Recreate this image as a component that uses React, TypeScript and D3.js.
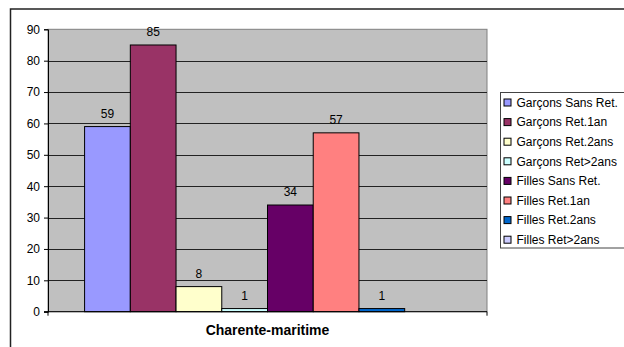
import React, { useRef, useEffect } from 'react';
import * as d3 from 'd3';

const categories = ['Charente-maritime'];
const series = [
    'Garçons Sans Ret.',
    'Garçons Ret.1an',
    'Garçons Ret.2ans',
    'Garçons Ret>2ans',
    'Filles Sans Ret.',
    'Filles Ret.1an',
    'Filles Ret.2ans',
    'Filles Ret>2ans',
];
const values: (number | null)[] = [59, 85, 8, 1, 34, 57, 1, null];
const colors = ['#9999FF', '#993366', '#FFFFCC', '#CCFFFF', '#660066', '#FF8080', '#0066CC', '#CCCCFF'];
const yTicks = [0, 10, 20, 30, 40, 50, 60, 70, 80, 90];

const W = 624;
const H = 347;

const App: React.FC = () => {
    const svgRef = useRef<SVGSVGElement>(null);

    useEffect(() => {
        if (!svgRef.current) return;
        const svg = d3.select(svgRef.current);
        svg.selectAll('*').remove();

        const font = 'Liberation Sans, Arial, sans-serif';
        const plot = { left: 48, right: 487, top: 29.3, bottom: 311.7 };

        // outer chart frame (runs off the picture on the right and bottom)
        svg.append('rect')
            .attr('x', 10.5).attr('y', 9)
            .attr('width', 700).attr('height', 400)
            .attr('fill', 'white')
            .attr('stroke', '#222').attr('stroke-width', 1.5);

        const y = d3.scaleLinear().domain([0, 90]).range([plot.bottom, plot.top]);
        const x0 = d3.scaleBand<string>().domain(categories).range([plot.left, plot.right]);
        const x1 = d3.scaleBand<string>().domain(series)
            .range([0, x0.bandwidth()]).paddingInner(0).paddingOuter(0.8);

        // plot background
        svg.append('rect')
            .attr('x', plot.left).attr('y', plot.top)
            .attr('width', plot.right - plot.left).attr('height', plot.bottom - plot.top)
            .attr('fill', '#C0C0C0')
            .attr('stroke', '#808080').attr('stroke-width', 1);

        // gridlines
        svg.append('g')
            .selectAll('line')
            .data(yTicks.filter(d => d > 0 && d < 90))
            .enter()
            .append('line')
            .attr('x1', plot.left).attr('x2', plot.right)
            .attr('y1', d => Math.round(y(d)) + 0.5).attr('y2', d => Math.round(y(d)) + 0.5)
            .attr('stroke', '#222').attr('stroke-width', 1);

        // bars
        const g = svg.append('g').attr('transform', `translate(${x0(categories[0])},0)`);
        series.forEach((s, i) => {
            const v = values[i];
            if (v == null) return;
            g.append('rect')
                .attr('x', x1(s)!)
                .attr('y', y(v))
                .attr('width', x1.bandwidth())
                .attr('height', y(0) - y(v))
                .attr('fill', colors[i])
                .attr('stroke', '#000').attr('stroke-width', 1);
            g.append('text')
                .attr('x', x1(s)! + x1.bandwidth() / 2)
                .attr('y', y(v) - 9)
                .attr('text-anchor', 'middle')
                .attr('font-family', font).attr('font-size', 12)
                .attr('fill', '#000')
                .text(String(v));
        });

        // y axis
        const yAxis = d3.axisLeft(y).tickValues(yTicks).tickSize(4).tickPadding(4);
        const ya = svg.append('g')
            .attr('transform', `translate(${plot.left},0)`)
            .call(yAxis);
        ya.select('.domain').attr('stroke', '#000');
        ya.selectAll('line').attr('stroke', '#000');
        ya.selectAll('text')
            .attr('font-family', font).attr('font-size', 12).attr('fill', '#000');

        // x axis baseline
        svg.append('line')
            .attr('x1', plot.left - 4).attr('x2', plot.right)
            .attr('y1', y(0)).attr('y2', y(0))
            .attr('stroke', '#000');
        [plot.left, plot.right].forEach(px => {
            svg.append('line')
                .attr('x1', px).attr('x2', px)
                .attr('y1', y(0)).attr('y2', y(0) + 4)
                .attr('stroke', '#000');
        });

        svg.append('text')
            .attr('x', x0(categories[0])! + x0.bandwidth() / 2)
            .attr('y', 335)
            .attr('text-anchor', 'middle')
            .attr('font-family', font).attr('font-size', 14).attr('font-weight', 'bold')
            .attr('fill', '#000')
            .text(categories[0]);

        // legend
        const lg = svg.append('g').attr('transform', 'translate(500.5,92.5)');
        lg.append('rect')
            .attr('width', 200).attr('height', 155.5)
            .attr('fill', 'white').attr('stroke', '#444').attr('stroke-width', 1);
        series.forEach((s, i) => {
            const cy = 10 + i * 19.6;
            lg.append('rect')
                .attr('x', 3.5).attr('y', cy - 3.5)
                .attr('width', 7).attr('height', 7)
                .attr('fill', colors[i]).attr('stroke', '#000').attr('stroke-width', 1);
            lg.append('text')
                .attr('x', 16).attr('y', cy + 4.2)
                .attr('font-family', font).attr('font-size', 12)
                .attr('fill', '#000')
                .text(s);
        });
    }, []);

    return (
        <svg
            ref={svgRef}
            width={W}
            height={H}
            style={{ position: 'absolute', left: 0, top: 0, background: 'white' }}
        />
    );
};

export default App;
